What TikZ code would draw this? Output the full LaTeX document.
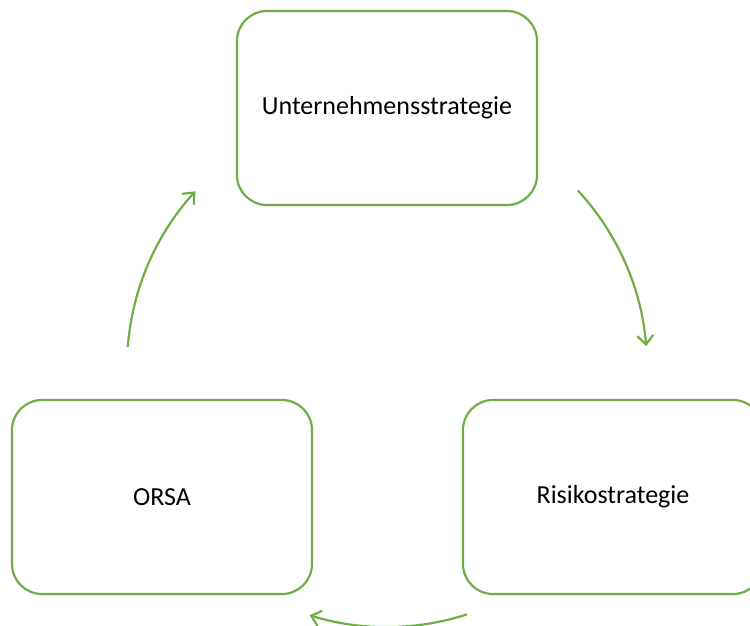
\documentclass[tikz,border=0pt]{standalone}
\usepackage{fontspec}
\setmainfont{Carlito}
\usetikzlibrary{arrows.meta}
\definecolor{boxgreen}{HTML}{70AD47}
\begin{document}
\begin{tikzpicture}[x=1pt,y=-1pt,
  stepbox/.style={draw=boxgreen,line width=2.2pt,rounded corners=30pt,minimum width=300pt,minimum height=194pt,inner sep=0pt,font=\fontsize{26}{30}\selectfont,text=black},
  cyc/.style={draw=boxgreen,line width=2.2pt,-{Straight Barb[length=9pt,width=16pt,line width=2.2pt]}}]
\useasboundingbox (0,0) rectangle (750,625);
\clip (0,0) rectangle (750,625);
\node[stepbox] (top) at (387,108) {Unternehmensstrategie};
\node[stepbox] (left) at (162,497) {ORSA};
\node[stepbox] (right) at (613,497) {Risikostrategie};
\coordinate (c) at (387,367);
\draw[cyc] ([shift={(175.6:260pt)}]c) arc[start angle=175.6,end angle=137.5,radius=260pt];
\draw[cyc] ([shift={(42.8:260pt)}]c) arc[start angle=42.8,end angle=4.6,radius=260pt];
\draw[cyc] ([shift={(-72.1:260pt)}]c) arc[start angle=-72.1,end angle=-107.3,radius=260pt];
\end{tikzpicture}
\end{document}
